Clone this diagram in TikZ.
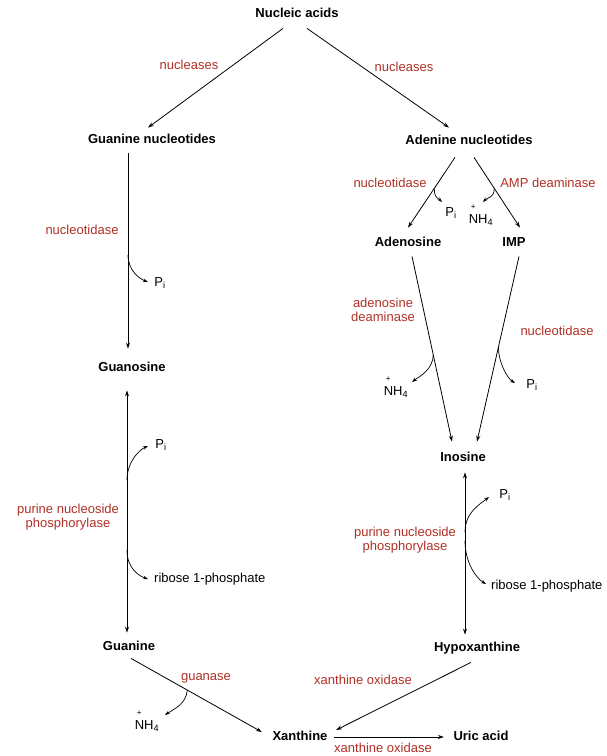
\documentclass[tikz,border=0pt]{standalone}
\usepackage{fontspec}
\setmainfont{Liberation Sans}
\usetikzlibrary{arrows.meta}
\definecolor{enz}{RGB}{175,48,38}
\newcommand\nhplus{\makebox[0pt][l]{\raisebox{2.1ex}{\hspace{0.15em}\fontsize{8}{8}\selectfont+}}NH\textsubscript{4}}
\newcommand\pisub{P\textsubscript{i}}
\begin{document}
\begin{tikzpicture}[x=1pt,y=-1pt,
 mol/.style={font=\fontsize{13}{14.5}\selectfont\bfseries, inner sep=1.5pt, text height=9.4pt, text depth=2pt},
 enzl/.style={font=\fontsize{13}{14.5}\selectfont, text=enz, inner sep=1pt, align=center},
 sm/.style={font=\fontsize{13}{14.5}\selectfont, inner sep=1pt},
 arr/.style={-{Stealth[length=6pt,width=4pt]}, line width=0.8pt},
 darr/.style={{Stealth[length=6pt,width=4pt]}-{Stealth[length=6pt,width=4pt]}, line width=0.8pt},
 sarr/.style={-{Stealth[length=5pt,width=3.5pt]}, line width=0.7pt}]
\useasboundingbox (0,0) rectangle (607,756);
% molecules
\node[mol] (na) at (297,14) {Nucleic acids};
\node[mol] (gnuc) at (152,140) {Guanine nucleotides};
\node[mol] (anuc) at (469,141) {Adenine nucleotides};
\node[mol] (ados) at (408,243) {Adenosine};
\node[mol] (imp) at (514,243) {IMP};
\node[mol] (guo) at (132,368) {Guanosine};
\node[mol] (ino) at (463,458) {Inosine};
\node[mol] (gua) at (129,647) {Guanine};
\node[mol] (hyp) at (477,648) {Hypoxanthine};
\node[mol] (xan) at (300,737) {Xanthine};
\node[mol] (uric) at (481,737) {Uric acid};
% enzymes
\node[enzl] (e1) at (189,65) {nucleases};
\node[enzl] (e2) at (404,67) {nucleases};
\node[enzl] (e3) at (82,230) {nucleotidase};
\node[enzl] (e4) at (390,183) {nucleotidase};
\node[enzl] (e5) at (548,183) {AMP deaminase};
\node[enzl] (e6) at (383,310) {adenosine\\deaminase};
\node[enzl] (e7) at (557,331) {nucleotidase};
\node[enzl] (e8) at (68,517) {purine nucleoside\\phosphorylase};
\node[enzl] (e9) at (405,540) {purine nucleoside\\phosphorylase};
\node[enzl] (e10) at (206,678) {guanase};
\node[enzl] (e11) at (363,680) {xanthine oxidase};
\node[enzl] (e12) at (383,748) {xanthine oxidase};
% small products
\node[sm] (pi1) at (160,283) {\pisub};
\node[sm] (pi2) at (161,445) {\pisub};
\node[sm] (pi3) at (451,213) {\pisub};
\node[sm] (pi4) at (532,385) {\pisub};
\node[sm] (pi5) at (505,495) {\pisub};
\node[sm] (nh1) at (481,215) {\nhplus};
\node[sm] (nh2) at (396,387) {\nhplus};
\node[sm] (nh3) at (147,721) {\nhplus};
\node[sm, anchor=west] (rb1) at (153,579) {ribose 1-phosphate};
\node[sm, anchor=west] (rb2) at (490,586) {ribose 1-phosphate};
% top
\draw[arr] ([shift={(-14,7)}]na.south) -- ([shift={(-4,-5)}]gnuc.north);
\draw[arr] ([shift={(10,7)}]na.south) -- ([shift={(-20,-6)}]anuc.north);
% left column
\draw[arr] ([shift={(-24,6)}]gnuc.south) -- coordinate[pos=0.52] (c1) ([shift={(-4,-12)}]guo.north);
\draw[sarr] (c1) .. controls +(0,16) and +(-8,-3) .. ([shift={(-12,-1)}]pi1.center);
\draw[darr] ([shift={(-5,15)}]guo.south) -- coordinate[pos=0.37] (c2) coordinate[pos=0.66] (c3) ([shift={(-2,-7)}]gua.north);
\draw[sarr] (c2) .. controls +(0,-18) and +(-9,4) .. ([shift={(-13,1)}]pi2.center);
\draw[sarr] (c3) .. controls +(0,18) and +(-9,-3) .. ([shift={(-5,0)}]rb1.west);
\draw[arr] ([shift={(2,4)}]gua.south) -- coordinate[pos=0.43] (c4) ([shift={(-9,-5)}]xan.west);
\draw[sarr] (c4) .. controls +(-1,14) and +(9,-6) .. ([shift={(18,-6)}]nh3.center);
% bottom
\draw[arr] ([shift={(-6,7)}]hyp.south) -- ([shift={(7,-7)}]xan.east);
\draw[arr] ([shift={(5,0)}]xan.east) -- ([shift={(-8,0)}]uric.west);
% right column
\draw[arr] ([shift={(-14,9)}]anuc.south) -- coordinate[pos=0.44] (c5) ([shift={(0,-8)}]ados.north);
\draw[arr] ([shift={(5,9)}]anuc.south) -- coordinate[pos=0.44] (c6) ([shift={(6,-8)}]imp.north);
\draw[sarr] (c5) .. controls +(0,10) and +(-5,-5) .. ([shift={(-9,-11)}]pi3.center);
\draw[sarr] (c6) .. controls +(0,10) and +(5,-5) .. ([shift={(2,-13)}]nh1.center);
\draw[arr] ([shift={(4,6)}]ados.south) -- coordinate[pos=0.53] (c7) ([shift={(-11,-9)}]ino.north);
\draw[arr] ([shift={(5,6)}]imp.south) -- coordinate[pos=0.49] (c8) ([shift={(14,-9)}]ino.north);
\draw[sarr] (c7) .. controls +(0,15) and +(8,-6) .. ([shift={(16,-5)}]nh2.center);
\draw[sarr] (c8) .. controls +(0,15) and +(-8,-5) .. ([shift={(-17,-2)}]pi4.center);
\draw[darr] ([shift={(2,7)}]ino.south) -- coordinate[pos=0.37] (c9) coordinate[pos=0.42] (c10) ([shift={(-12,-6)}]hyp.north);
\draw[sarr] (c9) .. controls +(0,-20) and +(-10,8) .. ([shift={(-16,2)}]pi5.center);
\draw[sarr] (c10) .. controls +(0,22) and +(-10,-6) .. ([shift={(-4,-2)}]rb2.west);
\end{tikzpicture}
\end{document}
